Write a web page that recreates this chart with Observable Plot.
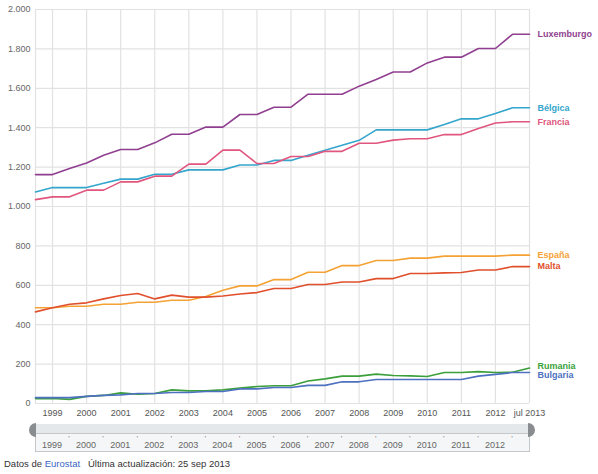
<!DOCTYPE html>
<html>
<head>
<meta charset="utf-8">
<script src="https://cdn.jsdelivr.net/npm/d3@7"></script>
<script src="https://cdn.jsdelivr.net/npm/@observablehq/plot@0.6"></script>
<style>
  body { margin: 0; font-family: Arial, "Liberation Sans", sans-serif; background: #fff; }
  #pie { font-size: 9.5px; color: #333; margin: 4px 0 0 4px; }
  #pie a { color: #3a66c4; text-decoration: none; }
</style>
</head>
<body>
<div id="chart"></div>
<div id="nav"></div>
<div id="pie">Datos de <a>Eurostat</a> &nbsp;&nbsp;Última actualización: 25 sep 2013</div>
<script>
// periodos semestrales (año + 0.5 = julio)
var periodos = [1998.5, 1999, 1999.5, 2000, 2000.5, 2001, 2001.5, 2002, 2002.5, 2003,
  2003.5, 2004, 2004.5, 2005, 2005.5, 2006, 2006.5, 2007, 2007.5, 2008,
  2008.5, 2009, 2009.5, 2010, 2010.5, 2011, 2011.5, 2012, 2012.5, 2013]

var paises = ['Luxemburgo', 'Bélgica', 'Francia', 'España', 'Malta', 'Rumania', 'Bulgaria']
var colores = ['#903f90', '#34a5cc', '#e0567e', '#f5a235', '#e0502c', '#3b9f3b', '#4e70c0']

var luxemburgo = [1162, 1162, 1193, 1221, 1260, 1289, 1289, 1323, 1367, 1367, 1403, 1403, 1467, 1467, 1504, 1504, 1570, 1570, 1570, 1611, 1645, 1683, 1683, 1729, 1758, 1758, 1802, 1802, 1874, 1874]
var belgica = [1074, 1096, 1096, 1096, 1118, 1139, 1139, 1164, 1164, 1186, 1186, 1186, 1211, 1211, 1234, 1234, 1260, 1286, 1311, 1336, 1389, 1389, 1389, 1389, 1416, 1445, 1445, 1472, 1501, 1501]
var francia = [1035, 1049, 1049, 1083, 1083, 1125, 1125, 1154, 1154, 1215, 1215, 1286, 1286, 1218, 1218, 1254, 1254, 1280, 1280, 1321, 1321, 1337, 1344, 1344, 1365, 1365, 1396, 1424, 1430, 1430]
var espana = [486, 486, 494, 494, 504, 504, 514, 514, 524, 524, 543, 575, 597, 597, 629, 629, 666, 666, 700, 700, 726, 726, 738, 738, 748, 748, 748, 748, 753, 753]
var malta = [465, 486, 504, 511, 531, 548, 558, 531, 550, 540, 540, 546, 556, 563, 584, 584, 604, 604, 617, 617, 634, 634, 660, 660, 663, 665, 678, 678, 695, 695]
var rumania = [25, 25, 21, 36, 41, 54, 47, 51, 69, 64, 65, 69, 78, 86, 90, 90, 114, 125, 139, 139, 149, 142, 140, 137, 157, 157, 162, 157, 159, 180]
var bulgaria = [30, 30, 30, 36, 41, 44, 51, 51, 56, 56, 61, 61, 74, 74, 81, 81, 92, 92, 110, 110, 122, 122, 122, 122, 122, 122, 139, 148, 157, 157]

var anios = [1999, 2000, 2001, 2002, 2003, 2004, 2005, 2006, 2007, 2008, 2009, 2010, 2011, 2012, 2013]
var etiquetasAnio = ['1999', '2000', '2001', '2002', '2003', '2004', '2005', '2006', '2007', '2008', '2009', '2010', '2011', '2012', 'jul 2013']
var ticksY = [0, 200, 400, 600, 800, 1000, 1200, 1400, 1600, 1800, 2000]

var series = [luxemburgo, belgica, francia, espana, malta, rumania, bulgaria]

// tabla larga
var data = []
series.forEach((s, i) => {
  s.forEach((v, j) => data.push({ pais: paises[i], fecha: periodos[j], valor: v }))
})
var ultimos = paises.map((p, i) => ({ pais: p, fecha: periodos[periodos.length - 1], valor: series[i][series[i].length - 1] }))

var es = d3.formatLocale({ decimal: ',', thousands: '.', grouping: [3], currency: ['', '€'] })
var fmt = es.format(',')

let chart = Plot.plot({
  width: 598,
  height: 420,
  marginLeft: 35,
  marginRight: 69,
  marginTop: 9,
  marginBottom: 17,
  style: { fontFamily: 'Arial, "Liberation Sans", sans-serif', fontSize: '9px', color: '#555' },
  x: { domain: [1998.5, 2013], axis: null },
  y: { domain: [0, 2000], axis: null },
  color: { domain: paises, range: colores },
  marks: [
    Plot.ruleX([1998.5].concat(anios), { stroke: '#e2e2e2', strokeWidth: 1.2, strokeOpacity: 1 }),
    Plot.ruleY(ticksY, { stroke: '#e2e2e2', strokeWidth: 1.2, strokeOpacity: 1 }),
    Plot.text(ticksY, { x: 1998.5, y: d => d, text: d => fmt(d), textAnchor: 'end', dx: -5, fill: '#666', fontSize: 9 }),
    Plot.text(anios, { x: d => d, y: 0, text: (d, i) => etiquetasAnio[i], dy: 10, fill: '#555', fontSize: 9 }),
    Plot.lineY(data, { x: 'fecha', y: 'valor', z: 'pais', stroke: 'pais', strokeWidth: 1.6 }),
    Plot.text(ultimos.filter(d => d.pais != 'Rumania' && d.pais != 'Bulgaria'),
      { x: 'fecha', y: 'valor', text: 'pais', fill: 'pais', textAnchor: 'start', dx: 8, fontWeight: 'bold', fontSize: 9 }),
    Plot.text(ultimos.filter(d => d.pais == 'Rumania'),
      { x: 'fecha', y: 'valor', text: 'pais', fill: 'pais', textAnchor: 'start', dx: 8, dy: -2, fontWeight: 'bold', fontSize: 9 }),
    Plot.text(ultimos.filter(d => d.pais == 'Bulgaria'),
      { x: 'fecha', y: 'valor', text: 'pais', fill: 'pais', textAnchor: 'start', dx: 8, dy: 3, fontWeight: 'bold', fontSize: 9 })
  ]
})

d3.select('#chart').append(() => chart)

// barra de navegación (rango) debajo del gráfico
var x = chart.scale('x')
var x0 = x.apply(1998.5), x1 = x.apply(2013)
var nav = d3.select('#nav').append('svg').attr('width', 598).attr('height', 34)
  .style('display', 'block')
  .style('font-family', 'Arial, "Liberation Sans", sans-serif')
nav.append('rect').attr('x', x0).attr('y', 4).attr('width', x1 - x0).attr('height', 9).attr('fill', '#e4e8ea')
nav.append('rect').attr('x', x0 + 0.5).attr('y', 13.5).attr('width', x1 - x0).attr('height', 18)
  .attr('fill', '#f4f6f7').attr('stroke', '#c4c8cb')
nav.selectAll('text.anio').data(anios.slice(0, -1)).join('text')
  .attr('x', d => x.apply(d)).attr('y', 28).attr('text-anchor', 'middle')
  .attr('font-size', 9).attr('fill', '#666').text(d => d)
nav.selectAll('text.marca').data(anios.slice(0, -1)).join('text')
  .attr('x', d => x.apply(d + 0.5)).attr('y', 21).attr('text-anchor', 'middle')
  .attr('font-size', 8).attr('fill', '#777').text("'")
nav.append('path').attr('d', `M${x0 + 1},3 A7,7 0 0 0 ${x0 + 1},17 Z`).attr('fill', '#8a8d90')
nav.append('path').attr('d', `M${x1 - 1},3 A7,7 0 0 1 ${x1 - 1},17 Z`).attr('fill', '#8a8d90')
</script>
</body>
</html>
